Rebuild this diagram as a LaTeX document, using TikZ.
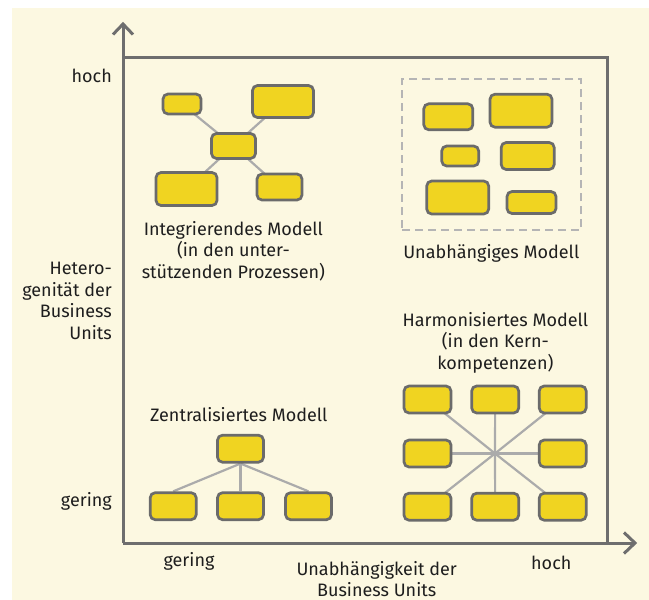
\documentclass[tikz,border=0pt]{standalone}
\usepackage{fontspec}
\setmainfont{Fira Sans}
\usetikzlibrary{arrows.meta}
\definecolor{bgcream}{HTML}{FCF8E1}
\definecolor{axisgray}{HTML}{6E6E6E}
\definecolor{boxfill}{HTML}{F0D421}
\definecolor{boxline}{HTML}{6B6B6B}
\definecolor{linkgray}{HTML}{ABABAB}
\definecolor{dashgray}{HTML}{B5B5B5}
\definecolor{txt}{HTML}{1E1E1E}
\pgfdeclarelayer{bglayer}
\pgfdeclarelayer{linklayer}
\pgfsetlayers{bglayer,linklayer,main}
\begin{document}
\begin{tikzpicture}[x=1pt,y=-1pt,
  font=\fontsize{18}{21.5}\selectfont,
  box/.style 2 args={draw=boxline, fill=boxfill, line width=2.7pt, rounded corners=5pt,
    inner sep=0pt, minimum width=#1, minimum height=#2},
  link/.style={draw=linkgray, line width=2.2pt},
  axis/.style={draw=axisgray, line width=3pt, line join=miter},
  lbl/.style={text=txt, inner sep=0pt, align=center},
  dashframe/.style={draw=dashgray, line width=2pt, dash pattern=on 8pt off 5pt, inner sep=0pt}]
\useasboundingbox (0,0) rectangle (649,600);
\begin{pgfonlayer}{bglayer}
  \fill[white] (0,0) rectangle (649,600);
  \fill[bgcream] (12,8) rectangle (649,600);
\end{pgfonlayer}

% axes and frame
\coordinate (O) at (123,543);
\coordinate (ytip) at (123,24);
\coordinate (xtip) at (635,543);
\coordinate (ftl) at (123,57.5);
\coordinate (ftr) at (607,57.5);
\coordinate (fbr) at (607,543);
\draw[axis] (O) -- (ytip);
\draw[axis] (O) -- (xtip);
\draw[axis] (ytip) ++(-10,10.5) -- (ytip) -- ++(10,10.5);
\draw[axis] (xtip) ++(-11,-10.5) -- (xtip) -- ++(-11,10.5);
\draw[axis] (ftl) -- (ftr) -- (fbr);

% axis labels
\node[lbl, anchor=east, align=right] (yhoch) at (112,75.8) {hoch};
\node[lbl, anchor=east, align=right] (ytitle) at (112,301) {Hetero-\\genität der\\Business\\Units};
\node[lbl, anchor=east] (ygering) at (112,501.3) {gering};
\node[lbl] (xgering) at (189,561.8) {gering};
\node[lbl] (xtitle) at (376.7,579) {Unabhängigkeit der\\Business Units};
\node[lbl] (xhoch) at (551.3,562.6) {hoch};

% Integrierendes Modell
\node[box={38pt}{20pt}] (i1) at (182,104) {};
\node[box={61pt}{32pt}] (i2) at (283,101.5) {};
\node[box={44pt}{25pt}] (ic) at (233.5,146) {};
\node[box={61pt}{33pt}] (i3) at (186.5,189) {};
\node[box={45pt}{26pt}] (i4) at (279.5,187) {};
\begin{pgfonlayer}{linklayer}
  \foreach \n in {i1,i2,i3,i4} \draw[link] (ic.center) -- (\n.center);
\end{pgfonlayer}
\node[lbl] (tint) at (233.4,250.8) {Integrierendes Modell\\(in den unter-\\stützenden Prozessen)};

% Unabhaengiges Modell
\node[dashframe, minimum width=179pt, minimum height=151pt] (indep) at (491.5,154.5) {};
\node[box={49pt}{26pt}] (u1) at (448.3,116.8) {};
\node[box={62pt}{33pt}] (u2) at (521,110.7) {};
\node[box={37pt}{20pt}] (u3) at (460.2,156) {};
\node[box={53pt}{27pt}] (u4) at (527.7,156) {};
\node[box={62pt}{33pt}] (u5) at (457.7,197.5) {};
\node[box={49pt}{22pt}] (u6) at (531.5,202.5) {};
\node[lbl] (tind) at (491.3,253.7) {Unabhängiges Modell};

% Harmonisiertes Modell
\node[lbl] (tharm) at (495.4,342.5) {Harmonisiertes Modell\\(in den Kern-\\kompetenzen)};
\coordinate (hc) at (495,453.5);
\node[box={47pt}{27pt}] (h1) at (427.5,399.5) {};
\node[box={47pt}{27pt}] (h2) at (495.2,399.5) {};
\node[box={47pt}{27pt}] (h3) at (562.7,399.5) {};
\node[box={47pt}{27pt}] (h4) at (427.5,453.5) {};
\node[box={47pt}{27pt}] (h5) at (562.7,453.5) {};
\node[box={47pt}{27pt}] (h6) at (427.5,506.7) {};
\node[box={47pt}{27pt}] (h7) at (495.2,506.7) {};
\node[box={47pt}{27pt}] (h8) at (562.7,506.7) {};
\begin{pgfonlayer}{linklayer}
  \foreach \n in {h1,h2,h3,h4,h5,h6,h7,h8} \draw[link] (hc) -- (\n.center);
\end{pgfonlayer}

% Zentralisiertes Modell
\node[lbl] (tzen) at (238.8,414.5) {Zentralisiertes Modell};
\node[box={46pt}{27pt}] (z0) at (240.5,448.7) {};
\node[box={46pt}{27pt}] (z1) at (173.2,506.2) {};
\node[box={46pt}{27pt}] (z2) at (240.5,506.2) {};
\node[box={46pt}{27pt}] (z3) at (308.5,506.2) {};
\begin{pgfonlayer}{linklayer}
  \foreach \n in {z1,z2,z3} \draw[link] (z0.south) -- (\n.north);
\end{pgfonlayer}
\end{tikzpicture}
\end{document}
